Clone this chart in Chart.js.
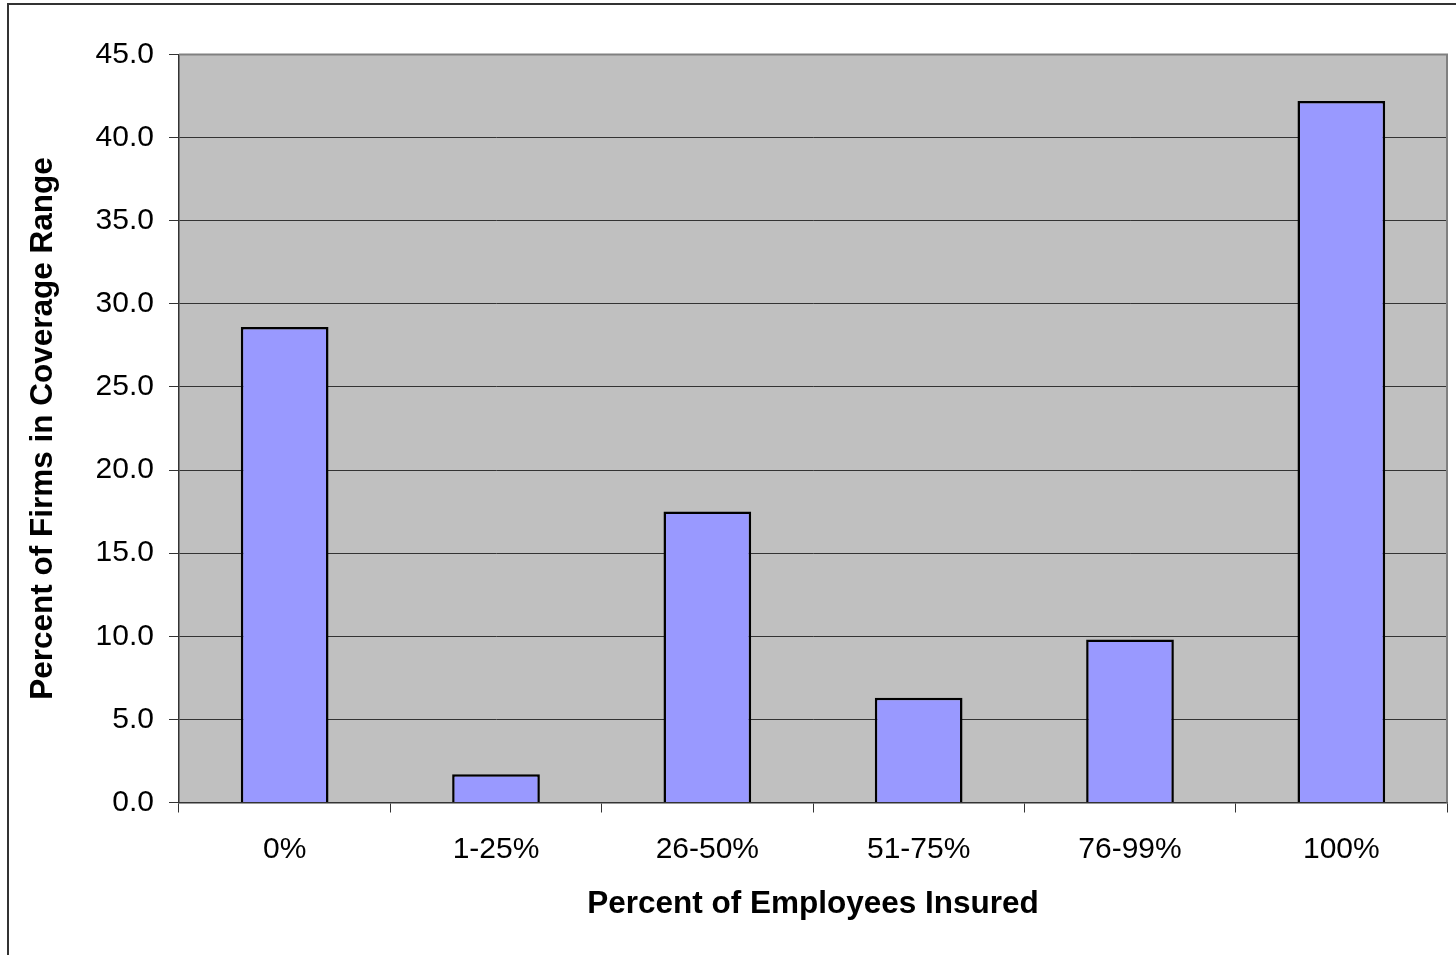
<!DOCTYPE html>
<html>
<head>
<meta charset="utf-8">
<title>Percent of Firms by Share of Employees Insured</title>
<script src="https://cdn.jsdelivr.net/npm/chart.js@4.4.1/dist/chart.umd.min.js"></script>
<style>
  html, body { margin: 0; padding: 0; background: #ffffff; }
  #wrap { width: 1456px; height: 955px; position: relative; }
</style>
</head>
<body>
<div id="wrap"><canvas id="chart"></canvas></div>
<script>
// Coverage ranges (share of a firm's employees with insurance)
const categories = ['0%', '1-25%', '26-50%', '51-75%', '76-99%', '100%'];
// Percent of firms falling in each range
const firmShares = [28.6, 1.7, 17.5, 6.3, 9.8, 42.2];
// Value axis
const yMin = 0;
const yMax = 45;
const yStep = 5;

const FONT = '"Liberation Sans", Arial, Helvetica, sans-serif';

// Paints the white page, the outer frame and the grey plot panel
const framePlugin = {
  id: 'frame',
  beforeDraw(chart) {
    const { ctx, width, height, chartArea: a } = chart;
    ctx.save();
    ctx.fillStyle = '#ffffff';
    ctx.fillRect(0, 0, width, height);
    ctx.strokeStyle = '#333333';
    ctx.lineWidth = 2;
    ctx.strokeRect(8, 4, width + 20, height + 20);
    ctx.fillStyle = '#c0c0c0';
    ctx.fillRect(a.left, a.top, a.right - a.left, a.bottom - a.top);
    ctx.restore();
  },
  beforeDatasetsDraw(chart) {
    const { ctx, chartArea: a } = chart;
    ctx.save();
    ctx.strokeStyle = '#808080';
    ctx.lineWidth = 2;
    ctx.beginPath();
    ctx.moveTo(a.left, a.top);
    ctx.lineTo(a.right, a.top);
    ctx.lineTo(a.right, a.bottom);
    ctx.stroke();
    ctx.restore();
  }
};

new Chart(document.getElementById('chart'), {
  type: 'bar',
  data: {
    labels: categories,
    datasets: [{
      data: firmShares,
      backgroundColor: '#9999ff',
      borderColor: '#000000',
      borderWidth: 2.5,
      barPercentage: 0.415,
      categoryPercentage: 1.0
    }]
  },
  options: {
    responsive: true,
    maintainAspectRatio: false,
    animation: false,
    layout: { padding: { left: 8, top: 54.5, right: 9, bottom: 0 } },
    plugins: {
      legend: { display: false },
      tooltip: { enabled: false }
    },
    scales: {
      x: {
        offset: true,
        grid: {
          offset: true,
          drawOnChartArea: false,
          drawTicks: true,
          tickLength: 10,
          tickColor: '#333333',
          tickWidth: 1
        },
        border: { display: true, color: '#333333', width: 1.5 },
        ticks: {
          color: '#000000',
          padding: 19,
          font: { family: FONT, size: 30 }
        },
        title: {
          display: true,
          text: 'Percent of Employees Insured',
          color: '#000000',
          font: { family: FONT, size: 31.5, weight: 'bold' },
          padding: { top: 0, bottom: 32 }
        },
        afterFit(scale) { scale.height = 152.5; }
      },
      y: {
        min: yMin,
        max: yMax,
        ticks: {
          stepSize: yStep,
          color: '#000000',
          padding: 15,
          font: { family: FONT, size: 30 },
          callback: (v) => Number(v).toFixed(1)
        },
        grid: {
          color: (c) => (c.tick && c.tick.value === yMax ? 'rgba(0,0,0,0)' : '#333333'),
          lineWidth: 1,
          drawTicks: true,
          tickLength: 10,
          tickColor: '#333333'
        },
        border: { display: true, color: '#333333', width: 1.5 },
        title: {
          display: true,
          text: 'Percent of Firms in Coverage Range',
          color: '#000000',
          font: { family: FONT, size: 31.5, weight: 'bold' },
          padding: { top: 16, bottom: 0 }
        },
        afterFit(scale) { scale.width = 171; }
      }
    }
  },
  plugins: [framePlugin]
});
</script>
</body>
</html>
